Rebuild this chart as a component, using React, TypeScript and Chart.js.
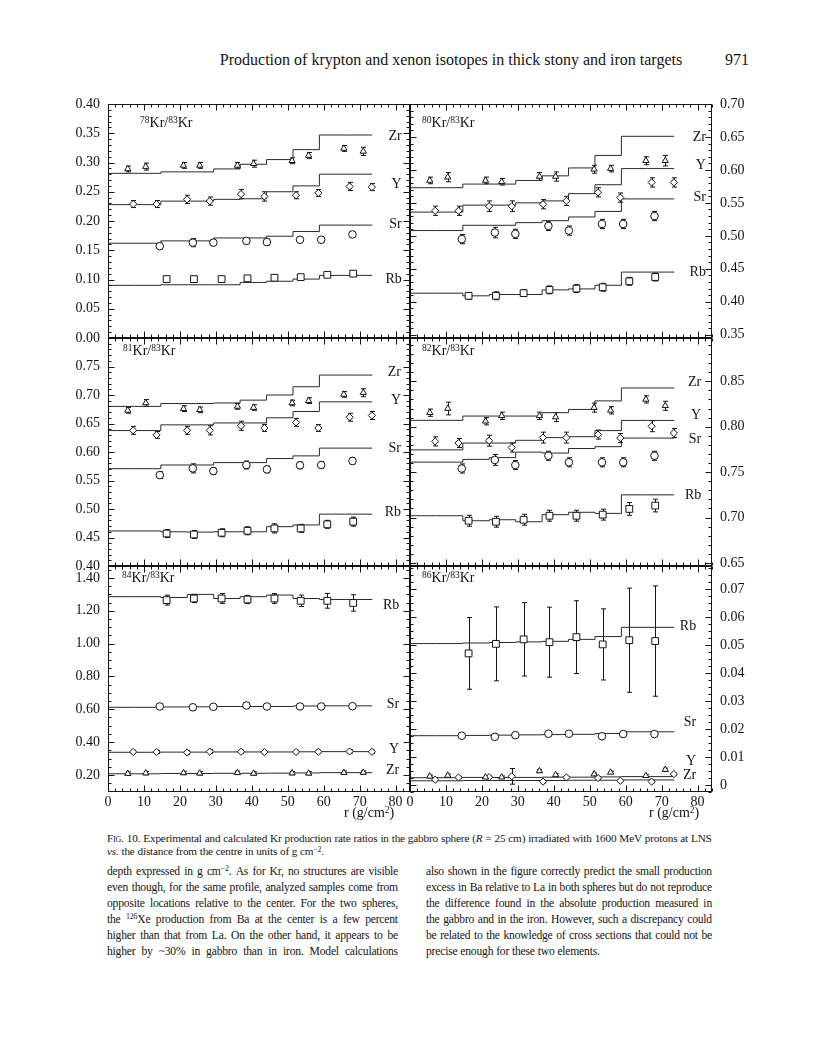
import React, { useEffect, useRef } from "react";
import { Chart, registerables } from "chart.js";

Chart.register(...registerables);

const FONT = '"Liberation Serif", "Times New Roman", serif';

// ---------- shared x data ----------
const xTickLabels = [0, 10, 20, 30, 40, 50, 60, 70, 80];
const calcEdges = [0, 7.35, 14.7, 22.05, 29.4, 36.75, 44.1, 51.45, 58.8, 66.15, 73.5];
const xZr = [5.5, 10.5, 21, 25.5, 36, 40.5, 51.2, 55.8, 65.6, 71];
const xY = [7, 13.5, 22, 28.3, 37, 43.5, 52.3, 58.5, 67.2, 73.4];
const xSr = [14.4, 23.6, 29.3, 38.5, 44.2, 53.4, 59.3, 68];
const xRb = [16.3, 23.9, 31.6, 38.8, 46.3, 53.6, 61, 68.2];

// ---------- 78Kr/83Kr ----------
const kr78Ticks = [0, 0.05, 0.1, 0.15, 0.2, 0.25, 0.3, 0.35, 0.4];
const kr78CalcZr = [0.2815, 0.2815, 0.2815, 0.284, 0.284, 0.289, 0.297, 0.305, 0.322, 0.347];
const kr78CalcY = [0.228, 0.228, 0.228, 0.234, 0.234, 0.237, 0.238, 0.25, 0.26, 0.28];
const kr78CalcSr = [0.162, 0.162, 0.162, 0.166, 0.166, 0.171, 0.171, 0.174, 0.182, 0.193];
const kr78CalcRb = [0.09, 0.09, 0.09, 0.091, 0.091, 0.091, 0.095, 0.097, 0.1007, 0.107];
const kr78Zr = [0.289, 0.293, 0.295, 0.295, 0.295, 0.298, 0.303, 0.312, 0.324, 0.319];
const kr78Y = [0.229, 0.229, 0.237, 0.234, 0.246, 0.242, 0.244, 0.248, 0.259, 0.258];
const kr78Sr = [0.157, 0.163, 0.163, 0.166, 0.164, 0.168, 0.168, 0.177];
const kr78Rb = [0.1007, 0.1007, 0.1007, 0.102, 0.103, 0.104, 0.108, 0.11];
const kr78ErrZr = [0.005, 0.006, 0.005, 0.005, 0.005, 0.006, 0.005, 0.005, 0.005, 0.007];
const kr78ErrY = [0.006, 0.006, 0.007, 0.007, 0.008, 0.008, 0.006, 0.006, 0.007, 0.006];
const kr78ErrSr = [0.005, 0.007, 0.005, 0.005, 0.005, 0.005, 0.005, 0.005];
const kr78ErrRb = [0.004, 0.004, 0.004, 0.004, 0.004, 0.004, 0.004, 0.004];

// ---------- 80Kr/83Kr ----------
const kr80Ticks = [0.35, 0.4, 0.45, 0.5, 0.55, 0.6, 0.65, 0.7];
const kr80CalcZr = [0.573, 0.573, 0.573, 0.5785, 0.5785, 0.584, 0.591, 0.603, 0.622, 0.651];
const kr80CalcY = [0.536, 0.536, 0.536, 0.5466, 0.5466, 0.55, 0.553, 0.564, 0.5775, 0.602];
const kr80CalcSr = [0.508, 0.508, 0.508, 0.516, 0.516, 0.52, 0.523, 0.5286, 0.537, 0.556];
const kr80CalcRb = [0.413, 0.413, 0.413, 0.409, 0.411, 0.411, 0.418, 0.4195, 0.425, 0.445];
const kr80Zr = [0.584, 0.589, 0.584, 0.582, 0.59, 0.59, 0.601, 0.602, 0.614, 0.614];
const kr80Y = [0.538, 0.538, 0.545, 0.545, 0.548, 0.553, 0.566, 0.558, 0.581, 0.581];
const kr80Sr = [0.495, 0.505, 0.503, 0.515, 0.508, 0.518, 0.518, 0.53];
const kr80Rb = [0.409, 0.409, 0.413, 0.418, 0.42, 0.422, 0.431, 0.4375];
const kr80ErrZr = [0.005, 0.007, 0.005, 0.005, 0.006, 0.007, 0.006, 0.005, 0.006, 0.008];
const kr80ErrY = [0.007, 0.007, 0.008, 0.008, 0.007, 0.007, 0.007, 0.007, 0.007, 0.007];
const kr80ErrSr = [0.007, 0.008, 0.007, 0.007, 0.007, 0.007, 0.007, 0.007];
const kr80ErrRb = [0.005, 0.006, 0.005, 0.006, 0.006, 0.006, 0.006, 0.006];

// ---------- 81Kr/83Kr ----------
const kr81Ticks = [0.4, 0.45, 0.5, 0.55, 0.6, 0.65, 0.7, 0.75];
const kr81CalcZr = [0.68, 0.68, 0.68, 0.685, 0.685, 0.686, 0.691, 0.7, 0.7145, 0.735];
const kr81CalcY = [0.6376, 0.6376, 0.6376, 0.6476, 0.6476, 0.651, 0.651, 0.66, 0.671, 0.688];
const kr81CalcSr = [0.5707, 0.5707, 0.5707, 0.5772, 0.5772, 0.5814, 0.5814, 0.5885, 0.5932, 0.6068];
const kr81CalcRb = [0.4615, 0.4615, 0.4615, 0.46, 0.4595, 0.46, 0.46, 0.469, 0.472, 0.491];
const kr81Zr = [0.673, 0.686, 0.676, 0.674, 0.68, 0.678, 0.686, 0.69, 0.701, 0.704];
const kr81Y = [0.638, 0.63, 0.638, 0.638, 0.646, 0.642, 0.652, 0.642, 0.661, 0.664];
const kr81Sr = [0.5595, 0.5713, 0.5666, 0.5772, 0.5695, 0.5766, 0.5772, 0.5843];
const kr81Rb = [0.457, 0.4553, 0.4583, 0.4618, 0.466, 0.466, 0.4731, 0.4778];
const kr81ErrZr = [0.005, 0.006, 0.005, 0.005, 0.005, 0.005, 0.005, 0.005, 0.005, 0.007];
const kr81ErrY = [0.007, 0.006, 0.007, 0.008, 0.008, 0.006, 0.007, 0.006, 0.007, 0.007];
const kr81ErrSr = [0.006, 0.008, 0.006, 0.007, 0.006, 0.006, 0.006, 0.006];
const kr81ErrRb = [0.007, 0.007, 0.007, 0.007, 0.008, 0.007, 0.007, 0.008];

// ---------- 82Kr/83Kr ----------
const kr82Ticks = [0.65, 0.7, 0.75, 0.8, 0.85];
const kr82CalcZr = [0.807, 0.807, 0.807, 0.8117, 0.8117, 0.8117, 0.8154, 0.819, 0.8284, 0.8426];
const kr82CalcY = [0.7745, 0.7745, 0.7745, 0.782, 0.782, 0.785, 0.788, 0.789, 0.7957, 0.8069];
const kr82CalcSr = [0.761, 0.761, 0.761, 0.764, 0.766, 0.772, 0.771, 0.776, 0.778, 0.7875];
const kr82CalcRb = [0.702, 0.702, 0.702, 0.6965, 0.6976, 0.6954, 0.7032, 0.7058, 0.7046, 0.725];
const kr82Zr = [0.8154, 0.82, 0.806, 0.812, 0.812, 0.8106, 0.821, 0.818, 0.83, 0.823];
const kr82Y = [0.7838, 0.782, 0.7846, 0.7771, 0.788, 0.788, 0.7913, 0.7875, 0.8005, 0.793];
const kr82Sr = [0.754, 0.7634, 0.7578, 0.768, 0.7608, 0.7608, 0.7608, 0.768];
const kr82Rb = [0.6965, 0.6954, 0.6976, 0.702, 0.702, 0.7032, 0.7095, 0.7132];
const kr82ErrZr = [0.004, 0.007, 0.004, 0.004, 0.004, 0.005, 0.005, 0.004, 0.004, 0.005];
const kr82ErrY = [0.005, 0.005, 0.006, 0.005, 0.006, 0.006, 0.005, 0.005, 0.006, 0.005];
const kr82ErrSr = [0.005, 0.006, 0.005, 0.005, 0.005, 0.005, 0.005, 0.005];
const kr82ErrRb = [0.006, 0.006, 0.006, 0.006, 0.006, 0.006, 0.007, 0.007];

// ---------- 84Kr/83Kr ----------
const kr84Ticks = [0.2, 0.4, 0.6, 0.8, 1.0, 1.2, 1.4];
const kr84CalcZr = [0.207, 0.207, 0.207, 0.209, 0.209, 0.21, 0.21, 0.211, 0.212, 0.214];
const kr84CalcY = [0.338, 0.338, 0.338, 0.339, 0.339, 0.34, 0.34, 0.34, 0.341, 0.342];
const kr84CalcSr = [0.612, 0.612, 0.612, 0.614, 0.615, 0.617, 0.617, 0.617, 0.62, 0.621];
const kr84CalcRb = [1.286, 1.286, 1.286, 1.281, 1.3, 1.275, 1.286, 1.296, 1.275, 1.269];
const kr84Zr = [0.208, 0.211, 0.212, 0.21, 0.213, 0.209, 0.211, 0.21, 0.214, 0.215];
const kr84Y = [0.34, 0.34, 0.337, 0.342, 0.341, 0.339, 0.34, 0.341, 0.343, 0.341];
const kr84Sr = [0.617, 0.612, 0.615, 0.623, 0.617, 0.617, 0.617, 0.619];
const kr84Rb = [1.265, 1.275, 1.275, 1.269, 1.275, 1.261, 1.261, 1.248];
const kr84ErrZr = [0.01, 0.01, 0.01, 0.01, 0.01, 0.01, 0.01, 0.01, 0.01, 0.01];
const kr84ErrY = [0.01, 0.01, 0.012, 0.012, 0.01, 0.01, 0.01, 0.01, 0.01, 0.01];
const kr84ErrSr = [0.015, 0.018, 0.015, 0.015, 0.015, 0.015, 0.015, 0.015];
const kr84ErrRb = [0.03, 0.025, 0.03, 0.025, 0.03, 0.035, 0.045, 0.05];

// ---------- 86Kr/83Kr ----------
const kr86Ticks = [0, 0.01, 0.02, 0.03, 0.04, 0.05, 0.06, 0.07];
const kr86CalcZr = [0.0015, 0.0015, 0.0015, 0.0016, 0.0016, 0.0016, 0.0016, 0.0017, 0.0017, 0.0018];
const kr86CalcY = [0.0026, 0.0026, 0.0026, 0.0027, 0.0027, 0.0027, 0.0028, 0.0028, 0.0029, 0.003];
const kr86CalcSr = [0.0176, 0.0176, 0.0176, 0.0177, 0.0178, 0.0179, 0.018, 0.0181, 0.0184, 0.019];
const kr86CalcRb = [0.0505, 0.0505, 0.0505, 0.0507, 0.0509, 0.0511, 0.0513, 0.052, 0.053, 0.0563];
const kr86Zr = [0.0031, 0.0034, 0.0028, 0.0028, 0.005, 0.0036, 0.0039, 0.0045, 0.0033, 0.0055];
const kr86Y = [0.0019, 0.0027, 0.0028, 0.0031, 0.0012, 0.0027, 0.0025, 0.0015, 0.0012, 0.0039];
const kr86Sr = [0.0176, 0.0172, 0.0178, 0.0183, 0.0183, 0.0174, 0.0182, 0.0182];
const kr86Rb = [0.047, 0.0504, 0.052, 0.051, 0.0528, 0.0502, 0.0517, 0.0514];
const kr86ErrZr = [0.0004, 0.0005, 0.0004, 0.0004, 0.0005, 0.0004, 0.0004, 0.0004, 0.0004, 0.0005];
const kr86ErrY = [0.0004, 0.0004, 0.0004, 0.0028, 0.0005, 0.0004, 0.0004, 0.0004, 0.0004, 0.0004];
const kr86ErrSr = [0.0006, 0.0009, 0.0006, 0.0006, 0.0006, 0.0006, 0.0006, 0.0006];
const kr86ErrRb = [0.0128, 0.0132, 0.0131, 0.0125, 0.013, 0.0127, 0.0186, 0.0197];

// ---------- layout ----------
const COL = [108, 410, 712];
const ROW = [104, 338, 566, 792];
const AXW = 56;
const PAD = 8;
const VPAD = 20;
const XAXH = 24;
const TICK_SIZE = 14;

type SeriesSpec = {
  name: string;
  xs: number[];
  exp: number[];
  err: number[];
  calc: number[];
  style: string;
  radius: number;
  labelY: number;
};

type PanelSpec = {
  key: string;
  x0: number;
  x1: number;
  y0: number;
  y1: number;
  side: "left" | "right";
  showX: boolean;
  yMin: number;
  yMax: number;
  yTicks: number[];
  yMajor: number;
  yMinor: number;
  fmt: (v: number) => string;
  labelX: number;
  series: SeriesSpec[];
};

const f2 = (v: number) => v.toFixed(2);
const f86 = (v: number) => (Math.abs(v) < 1e-9 ? "0" : v.toFixed(2));

function mk(
  zr: number[], zrE: number[], zrC: number[], zrL: number,
  y: number[], yE: number[], yC: number[], yL: number,
  sr: number[], srE: number[], srC: number[], srL: number,
  rb: number[], rbE: number[], rbC: number[], rbL: number
): SeriesSpec[] {
  return [
    { name: "Zr", xs: xZr, exp: zr, err: zrE, calc: zrC, style: "triangle", radius: 3.6, labelY: zrL },
    { name: "Y", xs: xY, exp: y, err: yE, calc: yC, style: "rectRot", radius: 3.6, labelY: yL },
    { name: "Sr", xs: xSr, exp: sr, err: srE, calc: srC, style: "circle", radius: 3.8, labelY: srL },
    { name: "Rb", xs: xRb, exp: rb, err: rbE, calc: rbC, style: "rect", radius: 4.8, labelY: rbL },
  ];
}

const panels: PanelSpec[] = [
  {
    key: "78", x0: COL[0], x1: COL[1], y0: ROW[0], y1: ROW[1], side: "left", showX: false,
    yMin: 0, yMax: 0.4, yTicks: kr78Ticks, yMajor: 0.05, yMinor: 0.01, fmt: f2, labelX: 81.7,
    series: mk(kr78Zr, kr78ErrZr, kr78CalcZr, 0.344, kr78Y, kr78ErrY, kr78CalcY, 0.262,
      kr78Sr, kr78ErrSr, kr78CalcSr, 0.194, kr78Rb, kr78ErrRb, kr78CalcRb, 0.101),
  },
  {
    key: "80", x0: COL[1], x1: COL[2], y0: ROW[0], y1: ROW[1], side: "right", showX: false,
    yMin: 0.345, yMax: 0.7, yTicks: kr80Ticks, yMajor: 0.05, yMinor: 0.01, fmt: f2, labelX: 82.3,
    series: mk(kr80Zr, kr80ErrZr, kr80CalcZr, 0.65, kr80Y, kr80ErrY, kr80CalcY, 0.607,
      kr80Sr, kr80ErrSr, kr80CalcSr, 0.559, kr80Rb, kr80ErrRb, kr80CalcRb, 0.444),
  },
  {
    key: "81", x0: COL[0], x1: COL[1], y0: ROW[1], y1: ROW[2], side: "left", showX: false,
    yMin: 0.4, yMax: 0.8, yTicks: kr81Ticks, yMajor: 0.05, yMinor: 0.01, fmt: f2, labelX: 81.5,
    series: mk(kr81Zr, kr81ErrZr, kr81CalcZr, 0.739, kr81Y, kr81ErrY, kr81CalcY, 0.691,
      kr81Sr, kr81ErrSr, kr81CalcSr, 0.607, kr81Rb, kr81ErrRb, kr81CalcRb, 0.495),
  },
  {
    key: "82", x0: COL[1], x1: COL[2], y0: ROW[1], y1: ROW[2], side: "right", showX: false,
    yMin: 0.6467, yMax: 0.8976, yTicks: kr82Ticks, yMajor: 0.05, yMinor: 0.01, fmt: f2, labelX: 81,
    series: mk(kr82Zr, kr82ErrZr, kr82CalcZr, 0.849, kr82Y, kr82ErrY, kr82CalcY, 0.812,
      kr82Sr, kr82ErrSr, kr82CalcSr, 0.786, kr82Rb, kr82ErrRb, kr82CalcRb, 0.724),
  },
  {
    key: "84", x0: COL[0], x1: COL[1], y0: ROW[2], y1: ROW[3], side: "left", showX: true,
    yMin: 0.096, yMax: 1.473, yTicks: kr84Ticks, yMajor: 0.2, yMinor: 0.05, fmt: f2, labelX: 81,
    series: mk(kr84Zr, kr84ErrZr, kr84CalcZr, 0.231, kr84Y, kr84ErrY, kr84CalcY, 0.357,
      kr84Sr, kr84ErrSr, kr84CalcSr, 0.628, kr84Rb, kr84ErrRb, kr84CalcRb, 1.235),
  },
  {
    key: "86", x0: COL[1], x1: COL[2], y0: ROW[2], y1: ROW[3], side: "right", showX: true,
    yMin: -0.0025, yMax: 0.0782, yTicks: kr86Ticks, yMajor: 0.01, yMinor: 0.0025, fmt: f86, labelX: 79.6,
    series: mk(kr86Zr, kr86ErrZr, kr86CalcZr, 0.0034, kr86Y, kr86ErrY, kr86CalcY, 0.0085,
      kr86Sr, kr86ErrSr, kr86CalcSr, 0.0223, kr86Rb, kr86ErrRb, kr86CalcRb, 0.0565),
  },
];

const INK = "#141414";

function makeDecor(s: PanelSpec) {
  return {
    id: "decor",
    beforeDatasetsDraw(chart: any) {
      const { ctx, scales } = chart;
      const xs = scales.x;
      const ys = scales.y;
      ctx.save();
      ctx.strokeStyle = INK;
      ctx.lineWidth = 1;
      s.series.forEach((se) => {
        se.xs.forEach((xv, i) => {
          const e = se.err[i];
          if (!e) return;
          const px = Math.round(xs.getPixelForValue(xv)) + 0.5;
          const ya = ys.getPixelForValue(se.exp[i] - e);
          const yb = ys.getPixelForValue(se.exp[i] + e);
          ctx.beginPath();
          ctx.moveTo(px, ya);
          ctx.lineTo(px, yb);
          ctx.moveTo(px - 2.5, ya);
          ctx.lineTo(px + 2.5, ya);
          ctx.moveTo(px - 2.5, yb);
          ctx.lineTo(px + 2.5, yb);
          ctx.stroke();
        });
      });
      ctx.restore();
    },
    afterDatasetsDraw(chart: any) {
      const { ctx, chartArea: a, scales } = chart;
      const xs = scales.x;
      const ys = scales.y;
      ctx.save();
      ctx.strokeStyle = INK;
      ctx.lineWidth = 1;
      const L = Math.round(a.left) + 0.5;
      const R = Math.round(a.right) - 0.5;
      const T = Math.round(a.top) + 0.5;
      const B = Math.round(a.bottom) - 0.5;
      ctx.strokeRect(L, T, R - L, B - T);
      ctx.beginPath();
      for (let n = 0; n <= 42; n++) {
        const v = n * 2;
        if (v > xs.max) break;
        const px = Math.round(xs.getPixelForValue(v)) + 0.5;
        const len = v % 10 === 0 ? 6 : 3;
        ctx.moveTo(px, B);
        ctx.lineTo(px, B - len);
        ctx.moveTo(px, T);
        ctx.lineTo(px, T + len);
      }
      const n0 = Math.ceil(s.yMin / s.yMinor - 1e-6);
      const n1 = Math.floor(s.yMax / s.yMinor + 1e-6);
      for (let n = n0; n <= n1; n++) {
        const v = n * s.yMinor;
        const r = v / s.yMajor;
        const major = Math.abs(r - Math.round(r)) < 1e-6;
        const len = major ? 6 : 3;
        const py = Math.round(ys.getPixelForValue(v)) + 0.5;
        ctx.moveTo(L, py);
        ctx.lineTo(L + len, py);
        ctx.moveTo(R, py);
        ctx.lineTo(R - len, py);
      }
      ctx.stroke();
      ctx.fillStyle = INK;
      ctx.font = `${TICK_SIZE}px ${FONT}`;
      ctx.textAlign = "right";
      ctx.textBaseline = "middle";
      s.series.forEach((se) => {
        ctx.fillText(se.name, xs.getPixelForValue(s.labelX), ys.getPixelForValue(se.labelY));
      });
      ctx.restore();
    },
  };
}

function buildConfig(s: PanelSpec): any {
  const datasets: any[] = [];
  s.series.forEach((se) => {
    datasets.push({
      type: "line",
      data: calcEdges.map((x, i) => ({ x, y: se.calc[Math.min(i, se.calc.length - 1)] })),
      stepped: "after",
      borderColor: "#2a2a2a",
      borderWidth: 1,
      pointRadius: 0,
      fill: false,
      order: 2,
    });
  });
  s.series.forEach((se) => {
    datasets.push({
      type: "line",
      showLine: false,
      data: se.xs.map((x, i) => ({ x, y: se.exp[i] })),
      pointStyle: se.style,
      pointRadius: se.radius,
      pointBackgroundColor: "#ffffff",
      pointBorderColor: INK,
      pointBorderWidth: 1,
      order: 1,
    });
  });
  const tickFont = { family: FONT, size: TICK_SIZE };
  return {
    type: "line",
    data: { datasets },
    plugins: [makeDecor(s)],
    options: {
      responsive: false,
      animation: false,
      events: [],
      layout: {
        padding: {
          left: s.side === "left" ? 0 : PAD,
          right: s.side === "left" ? PAD : 0,
          top: VPAD,
          bottom: s.showX ? 0 : VPAD,
        },
      },
      plugins: { legend: { display: false }, tooltip: { enabled: false } },
      scales: {
        x: {
          type: "linear",
          min: 0,
          max: 84,
          display: s.showX,
          position: "bottom",
          grid: { display: false, drawTicks: false },
          border: { display: false },
          ticks: { font: tickFont, color: INK, padding: 2, autoSkip: false, maxRotation: 0 },
          afterBuildTicks: (sc: any) => {
            sc.ticks = xTickLabels.map((v) => ({ value: v }));
          },
          afterFit: (sc: any) => {
            if (s.showX) sc.height = XAXH;
          },
        },
        y: {
          type: "linear",
          min: s.yMin,
          max: s.yMax,
          position: s.side,
          grid: { display: false, drawTicks: false },
          border: { display: false },
          ticks: {
            font: tickFont,
            color: INK,
            padding: 8,
            autoSkip: false,
            callback: (v: any) => s.fmt(Number(v)),
          },
          afterBuildTicks: (sc: any) => {
            sc.ticks = s.yTicks.map((v) => ({ value: v }));
          },
          afterFit: (sc: any) => {
            sc.width = AXW;
          },
        },
      },
    },
  };
}

function Panel({ spec }: { spec: PanelSpec }) {
  const ref = useRef<HTMLCanvasElement>(null);
  const pw = spec.x1 - spec.x0;
  const ph = spec.y1 - spec.y0;
  const left = spec.side === "left" ? spec.x0 - AXW : spec.x0 - PAD;
  const width = AXW + pw + PAD;
  const top = spec.y0 - VPAD;
  const height = VPAD + ph + (spec.showX ? XAXH : VPAD);
  useEffect(() => {
    const chart = new Chart(ref.current as HTMLCanvasElement, buildConfig(spec));
    return () => chart.destroy();
  }, [spec]);
  return (
    <canvas
      ref={ref}
      width={width}
      height={height}
      style={{ position: "absolute", left, top, width, height }}
    />
  );
}

const sup: React.CSSProperties = { fontSize: "0.68em", verticalAlign: "0.45em", lineHeight: 0 };

function Ratio({ a }: { a: string }) {
  return (
    <span>
      <span style={sup}>{a}</span>Kr/<span style={sup}>83</span>Kr
    </span>
  );
}

const titles = [
  { a: "78", left: 140, top: 115 },
  { a: "80", left: 422, top: 115 },
  { a: "81", left: 123, top: 343 },
  { a: "82", left: 422, top: 343 },
  { a: "84", left: 122, top: 570 },
  { a: "86", left: 422, top: 570 },
];

const bodyLeft = [
  "depth expressed in g cm^{−2}. As for Kr, no structures are visible",
  "even though, for the same profile, analyzed samples come from",
  "opposite locations relative to the center. For the two spheres,",
  "the ^{126}Xe production from Ba at the center is a few percent",
  "higher than that from La. On the other hand, it appears to be",
  "higher by ~30% in gabbro than in iron. Model calculations",
];
const bodyRight = [
  "also shown in the figure correctly predict the small production",
  "excess in Ba relative to La in both spheres but do not reproduce",
  "the difference found in the absolute production measured in",
  "the gabbro and in the iron. However, such a discrepancy could",
  "be related to the knowledge of cross sections that could not be",
  "precise enough for these two elements.",
];
const captionLines = [
  "|Fig.| 10. Experimental and calculated Kr production rate ratios in the gabbro sphere (*R* = 25 cm) irradiated with 1600 MeV protons at LNS",
  "*vs.* the distance from the centre in units of g cm^{−2}.",
];

function renderWord(w: string) {
  const parts = w.split(/(\^\{[^}]*\}|\*[^*]+\*|\|[^|]+\|)/g).filter((p) => p.length > 0);
  return parts.map((p, i) => {
    if (p.startsWith("^{")) return <span key={i} style={sup}>{p.slice(2, -1)}</span>;
    if (p.startsWith("*") && p.length > 1) return <i key={i}>{p.slice(1, -1)}</i>;
    if (p.startsWith("|")) return <span key={i} style={{ fontVariant: "small-caps" }}>{p.slice(1, -1)}</span>;
    return <React.Fragment key={i}>{p}</React.Fragment>;
  });
}

function Line({ left, top, width, size, ls, last, text }: any) {
  const words = (text as string).split(" ");
  return (
    <div
      style={{
        position: "absolute",
        left,
        top,
        width,
        display: "flex",
        justifyContent: last ? "flex-start" : "space-between",
        columnGap: last ? "0.25em" : 0,
        whiteSpace: "nowrap",
        fontSize: size,
        letterSpacing: ls,
        lineHeight: `${size + 3}px`,
      }}
    >
      {words.map((w, i) => (
        <span key={i}>{renderWord(w)}</span>
      ))}
    </div>
  );
}

export default function App() {
  return (
    <div
      style={{
        position: "absolute",
        left: 0,
        top: 0,
        width: 817,
        height: 1050,
        background: "#fff",
        color: INK,
        fontFamily: FONT,
        overflow: "hidden",
      }}
    >
      <div style={{ position: "absolute", left: 150, top: 51, width: 602, textAlign: "center", fontSize: 16 }}>
        Production of krypton and xenon isotopes in thick stony and iron targets
      </div>
      <div style={{ position: "absolute", left: 725, top: 51, fontSize: 16 }}>971</div>

      {panels.map((p) => (
        <Panel key={p.key} spec={p} />
      ))}

      {titles.map((t) => (
        <div key={t.a} style={{ position: "absolute", left: t.left, top: t.top, fontSize: 14, lineHeight: "16px" }}>
          <Ratio a={t.a} />
        </div>
      ))}

      <div style={{ position: "absolute", left: 344, top: 805, fontSize: 14, lineHeight: "16px" }}>
        r (g/cm<span style={sup}>2</span>)
      </div>
      <div style={{ position: "absolute", left: 649, top: 805, fontSize: 14, lineHeight: "16px" }}>
        r (g/cm<span style={sup}>2</span>)
      </div>

      {captionLines.map((c, i) => (
        <Line key={"c" + i} left={107} top={831 + i * 13} width={605} size={11.2} ls={-0.15} last={i === 1} text={c} />
      ))}

      {bodyLeft.map((c, i) => (
        <Line key={"l" + i} left={107} top={865 + i * 16} width={291} size={11.6} ls={-0.2} text={c} />
      ))}
      {bodyRight.map((c, i) => (
        <Line key={"r" + i} left={426} top={865 + i * 16} width={286} size={11.6} ls={-0.2} last={i === bodyRight.length - 1} text={c} />
      ))}
    </div>
  );
}
